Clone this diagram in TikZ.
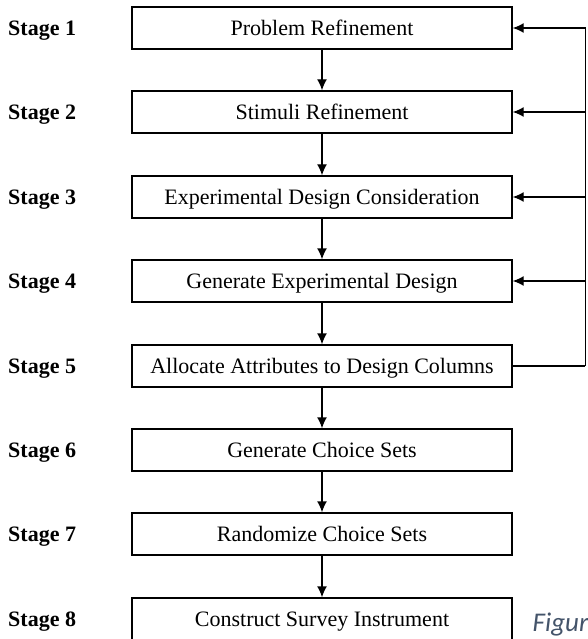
\documentclass[tikz,border=0pt]{standalone}
\usepackage{fontspec}
\setmainfont{Liberation Serif}
\newfontfamily\capfont{Carlito}
\usetikzlibrary{arrows.meta,calc}
\definecolor{captionblue}{HTML}{44546A}
\tikzset{
  stagebox/.style={draw, line width=1.4pt, minimum width=380pt, minimum height=42pt,
    inner sep=0pt, text height=14.5pt, text depth=0pt,
    font=\fontsize{22}{26}\selectfont},
  stagelabel/.style={anchor=west, inner sep=0pt, text height=14.5pt, text depth=0pt,
    font=\fontsize{22}{26}\selectfont\bfseries},
  flow/.style={line width=1.4pt, -{Latex[length=11pt,width=10pt]}},
  link/.style={line width=1.4pt}
}
\begin{document}
\begin{tikzpicture}[x=1pt,y=-1pt]
  \useasboundingbox (0,0) rectangle (587,639);

  % process boxes, centred at x = 322
  \node[stagebox] (b1) at (322,28)  {Problem Refinement};
  \node[stagebox] (b2) at (322,112) {Stimuli Refinement};
  \node[stagebox] (b3) at (322,197) {Experimental Design Consideration};
  \node[stagebox] (b4) at (322,281) {Generate Experimental Design};
  \node[stagebox] (b5) at (322,366) {Allocate Attributes to Design Columns};
  \node[stagebox] (b6) at (322,450) {Generate Choice Sets};
  \node[stagebox] (b7) at (322,534) {Randomize Choice Sets};
  \node[stagebox] (b8) at (322,619) {Construct Survey Instrument};

  % stage labels on the left
  \foreach \i in {1,...,8}
    \node[stagelabel] (s\i) at (8,0 |- b\i.west) {Stage \i};

  % downward flow between consecutive stages
  \foreach \i [evaluate=\i as \j using int(\i+1)] in {1,...,7}
    \draw[flow] (b\i.south) -- (b\j.north);

  % feedback loop from stage 5 back to stages 1--4
  \draw[link] (b5.east) -- (585.3,0 |- b5.east) coordinate (fb);
  \draw[flow] (fb) |- (b1.east);
  \foreach \i in {2,3,4}
    \draw[flow] (fb |- b\i.east) -- (b\i.east);

  % caption fragment
  \node[anchor=base west, inner sep=0pt, text=captionblue,
        font=\capfont\itshape\fontsize{27}{31}\selectfont] (cap) at (532.5,631) {Figure};
\end{tikzpicture}
\end{document}
